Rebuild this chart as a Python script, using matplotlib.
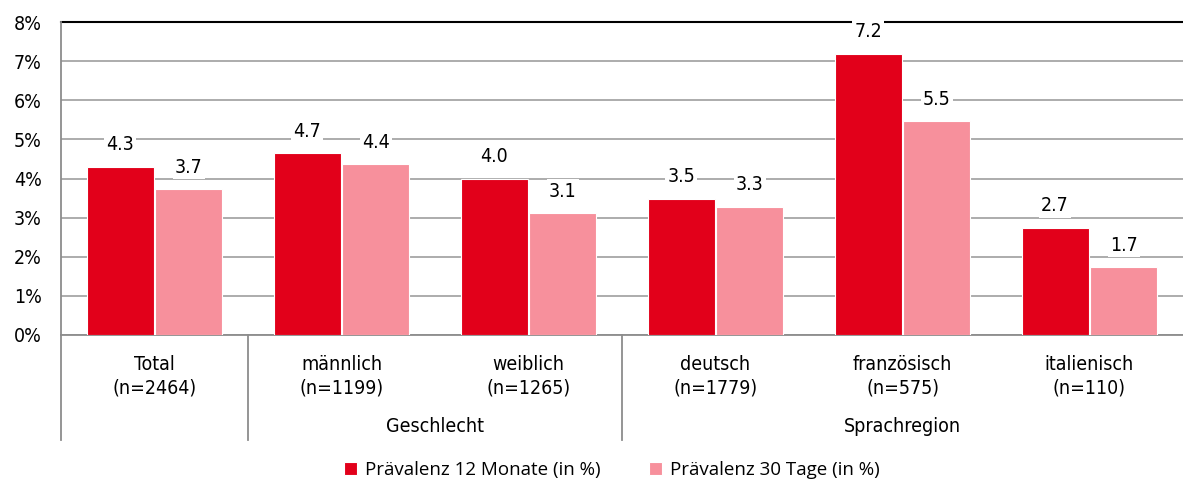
import numpy as np
import matplotlib
matplotlib.use("Agg")
import matplotlib.pyplot as plt

categories = ["Total", "männlich", "weiblich", "deutsch", "französisch", "italienisch"]
n_labels = ["(n=2464)", "(n=1199)", "(n=1265)", "(n=1779)", "(n=575)", "(n=110)"]
prev_12m = [4.30, 4.65, 4.00, 3.48, 7.19, 2.74]      # bar heights
prev_30d = [3.72, 4.36, 3.12, 3.28, 5.46, 1.74]
labels_12m = ["4.3", "4.7", "4.0", "3.5", "7.2", "2.7"]
labels_30d = ["3.7", "4.4", "3.1", "3.3", "5.5", "1.7"]
groups = [("Geschlecht", 1, 2), ("Sprachregion", 3, 5)]   # name, first, last category
yticks = [0, 1, 2, 3, 4, 5, 6, 7, 8]

RED = "#E2001A"
PINK = "#F7909C"
FONT = dict(family="DejaVu Sans", stretch="condensed", size=14)

W, H = 1183, 484
fig = plt.figure(figsize=(W / 100, H / 100), dpi=100)
ax = fig.add_axes([61 / W, (H - 335) / H, 1 - 61 / W, (335 - 22) / H])

x = np.arange(len(categories))
bw = 0.358
off = 0.184
ax.bar(x - off, prev_12m, bw, color=RED, edgecolor="white", linewidth=0.8,
       label="Prävalenz 12 Monate (in %)", zorder=3)
ax.bar(x + off, prev_30d, bw, color=PINK, edgecolor="white", linewidth=0.8,
       label="Prävalenz 30 Tage (in %)", zorder=3)

# value labels on white boxes (they cut the gridlines)
for xi, v, s in zip(x - off, prev_12m, labels_12m):
    ax.text(xi, v + 0.56, s, ha="center", va="center", fontdict=FONT,
            bbox=dict(facecolor="white", edgecolor="none", pad=1.5), zorder=4)
for xi, v, s in zip(x + off, prev_30d, labels_30d):
    ax.text(xi, v + 0.56, s, ha="center", va="center", fontdict=FONT,
            bbox=dict(facecolor="white", edgecolor="none", pad=1.5), zorder=4)

ax.set_xlim(-0.5, len(categories) - 0.5)
ax.set_ylim(0, 8)
ax.set_yticks(yticks)
ax.set_yticklabels([f"{t}%" for t in yticks], fontdict=FONT)
ax.tick_params(axis="y", length=0, pad=14)
ax.set_xticks([])
ax.grid(axis="y", color="#A6A6A6", linewidth=1.3, zorder=0)
for sp in ["right", "top"]:
    ax.spines[sp].set_visible(False)
ax.spines["left"].set_color("#8C8C8C")
ax.spines["left"].set_linewidth(1.3)
ax.spines["bottom"].set_color("#8C8C8C")
ax.spines["bottom"].set_linewidth(1.3)
ax.axhline(8, color="black", linewidth=1.5, zorder=2, clip_on=False)

# category axis below the plot
tr = ax.get_xaxis_transform()
ph = 335 - 22
depth = (440 - 335) / ph
for xi, c, n in zip(x, categories, n_labels):
    ax.text(xi, -(364 - 335) / ph, c, transform=tr, ha="center", va="center", fontdict=FONT)
    ax.text(xi, -(388 - 335) / ph, n, transform=tr, ha="center", va="center", fontdict=FONT)
for sep in [-0.5, 0.5, 2.5]:
    ax.plot([sep, sep], [0, -depth], transform=tr, color="#8C8C8C", linewidth=1.3,
            clip_on=False)
for name, a, b in groups:
    ax.text((a + b) / 2, -(427 - 335) / ph, name, transform=tr, ha="center",
            va="center", fontdict=FONT)

fig.legend(loc="center", bbox_to_anchor=(612 / W, 1 - 470 / H), ncol=2, frameon=False,
           prop={"family": "Open Sans", "size": 13.5}, handlelength=0.7,
           handleheight=0.7, handletextpad=0.4, columnspacing=2.6)

fig.savefig("out.png", dpi=100)
